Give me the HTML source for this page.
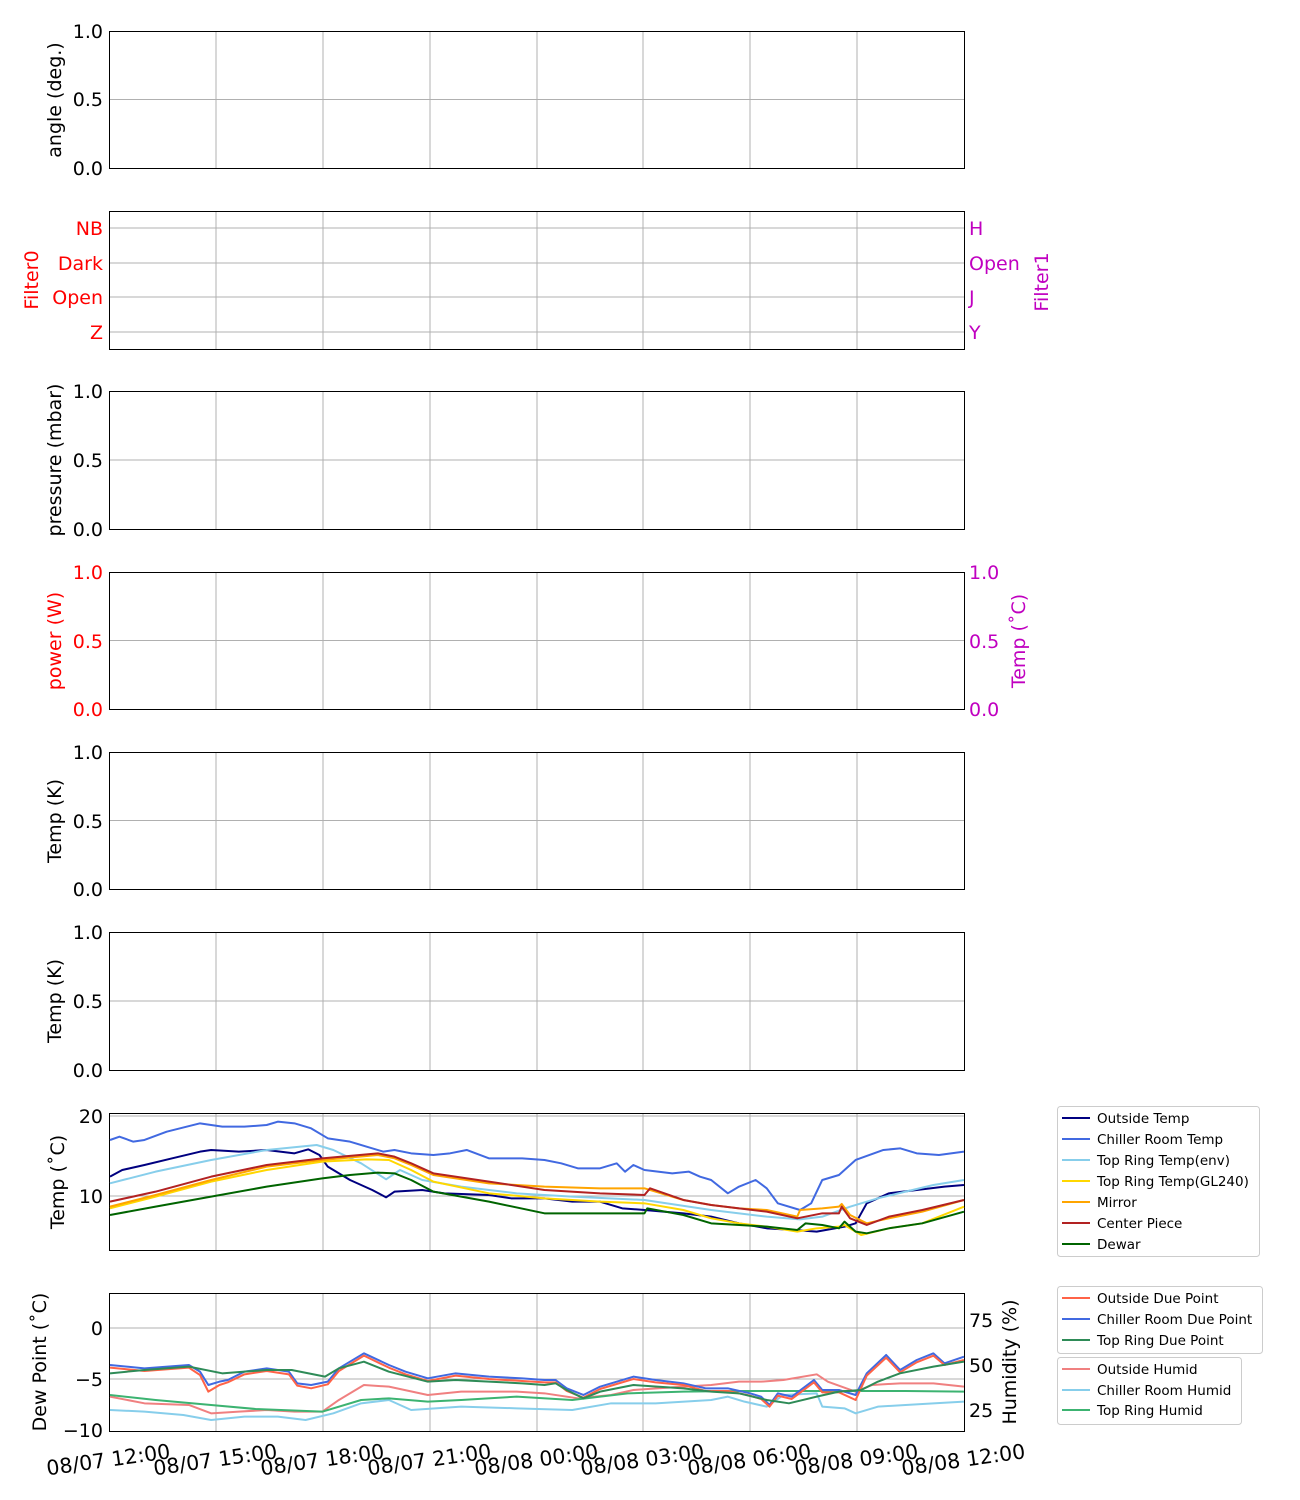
<!DOCTYPE html>
<html><head><meta charset="utf-8"><style>
body{margin:0;background:#fff}
svg{display:block;font-family:"DejaVu Sans","Liberation Sans",sans-serif}
.g{stroke:#b0b0b0;stroke-width:1;fill:none}
.f{fill:none;stroke:#000;stroke-width:1}
.t{font-size:19px;fill:#000}
.x{font-size:20.5px;fill:#000}
.l{font-size:13.5px;fill:#000}
.s{fill:none;stroke-width:2;vector-effect:non-scaling-stroke;stroke-linejoin:round}
</style></head><body>
<svg width="1300" height="1500" viewBox="0 0 1300 1500" xmlns="http://www.w3.org/2000/svg">
<rect width="1300" height="1500" fill="#fff"/>
<path class="g" d="M216 31V168M323 31V168M430 31V168M537 31V168M643 31V168M750 31V168M857 31V168
M216 211V349M323 211V349M430 211V349M537 211V349M643 211V349M750 211V349M857 211V349
M216 391V529M323 391V529M430 391V529M537 391V529M643 391V529M750 391V529M857 391V529
M216 572V709M323 572V709M430 572V709M537 572V709M643 572V709M750 572V709M857 572V709
M216 752V889M323 752V889M430 752V889M537 752V889M643 752V889M750 752V889M857 752V889
M216 932V1070M323 932V1070M430 932V1070M537 932V1070M643 932V1070M750 932V1070M857 932V1070
M216 1113V1250M323 1113V1250M430 1113V1250M537 1113V1250M643 1113V1250M750 1113V1250M857 1113V1250
M216 1293V1431M323 1293V1431M430 1293V1431M537 1293V1431M643 1293V1431M750 1293V1431M857 1293V1431
M109 99.5H964M109 228H964M109 263H964M109 297H964M109 332H964M109 460H964M109 640.5H964M109 820.5H964M109 1001H964M109 1116H964M109 1196H964M109 1328H964M109 1379H964"/>
<rect class="f" x="109.5" y="31.5" width="855" height="137"/>
<rect class="f" x="109.5" y="211.5" width="855" height="138"/>
<rect class="f" x="109.5" y="391.5" width="855" height="138"/>
<rect class="f" x="109.5" y="572.5" width="855" height="137"/>
<rect class="f" x="109.5" y="752.5" width="855" height="137"/>
<rect class="f" x="109.5" y="932.5" width="855" height="138"/>
<rect class="f" x="109.5" y="1113.5" width="855" height="137"/>
<rect class="f" x="109.5" y="1293.5" width="855" height="138"/>

<g class="t" text-anchor="end">
<text x="103" y="38">1.0</text><text x="103" y="106">0.5</text><text x="103" y="175">0.0</text>
<text x="103" y="398">1.0</text><text x="103" y="467">0.5</text><text x="103" y="536">0.0</text>
<text x="103" y="759">1.0</text><text x="103" y="828">0.5</text><text x="103" y="896">0.0</text>
<text x="103" y="939">1.0</text><text x="103" y="1008">0.5</text><text x="103" y="1077">0.0</text>
<text x="103" y="1123">20</text><text x="103" y="1203">10</text>
<text x="103" y="1335">0</text><text x="103" y="1386">−5</text><text x="103" y="1437">−10</text>
</g>
<g class="t" text-anchor="end" style="fill:#f00">
<text x="103" y="235">NB</text><text x="103" y="270">Dark</text><text x="103" y="304">Open</text><text x="103" y="339">Z</text>
<text x="103" y="579">1.0</text><text x="103" y="648">0.5</text><text x="103" y="716">0.0</text>
</g>
<g class="t" style="fill:#c000c0">
<text x="969" y="235">H</text><text x="969" y="270">Open</text><text x="969" y="304">J</text><text x="969" y="339">Y</text>
<text x="969" y="579">1.0</text><text x="969" y="648">0.5</text><text x="969" y="716">0.0</text>
</g>
<g class="t" text-anchor="start">
<text x="969" y="1327">75</text><text x="969" y="1372">50</text><text x="969" y="1417">25</text>
</g>
<g class="t" text-anchor="middle">
<text transform="translate(61,100) rotate(-90)">angle (deg.)</text>
<text transform="translate(38,280) rotate(-90)" style="fill:#f00">Filter0</text>
<text transform="translate(1048,282) rotate(-90)" style="fill:#c000c0">Filter1</text>
<text transform="translate(61,460) rotate(-90)">pressure (mbar)</text>
<text transform="translate(61,641) rotate(-90)" style="fill:#f00">power (W)</text>
<text transform="translate(1025,641) rotate(-90)" style="fill:#c000c0">Temp (˚C)</text>
<text transform="translate(61,821) rotate(-90)">Temp (K)</text>
<text transform="translate(61,1001) rotate(-90)">Temp (K)</text>
<text transform="translate(64,1182) rotate(-90)">Temp (˚C)</text>
<text transform="translate(46,1362) rotate(-90)">Dew Point (˚C)</text>
<text transform="translate(1016,1362) rotate(-90)">Humidity (%)</text>
</g>
<g class="x" text-anchor="end">
<text transform="translate(171,1458) rotate(-8)">08/07 12:00</text>
<text transform="translate(278,1458) rotate(-8)">08/07 15:00</text>
<text transform="translate(385,1458) rotate(-8)">08/07 18:00</text>
<text transform="translate(492,1458) rotate(-8)">08/07 21:00</text>
<text transform="translate(599,1458) rotate(-8)">08/08 00:00</text>
<text transform="translate(705,1458) rotate(-8)">08/08 03:00</text>
<text transform="translate(812,1458) rotate(-8)">08/08 06:00</text>
<text transform="translate(919,1458) rotate(-8)">08/08 09:00</text>
<text transform="translate(1026,1458) rotate(-8)">08/08 12:00</text>
</g>

<g transform="translate(100,1100) scale(0.5556,0.3333)">
<polyline class="s" stroke="#4169e1" points="18,120 35,110 60,125 80,120 120,95 180,70 220,80 260,80 300,75 320,65 350,70 380,85 410,115 450,125 480,140 510,155 530,150 560,160 600,165 630,160 660,150 700,175 760,175 800,180 830,190 860,205 900,205 930,190 945,215 960,195 980,210 1030,220 1060,215 1080,230 1100,240 1130,280 1150,260 1180,240 1200,265 1220,310 1260,330 1280,310 1300,240 1330,225 1360,180 1410,150 1440,145 1470,160 1510,165 1555,155"/>
<polyline class="s" stroke="#000080" points="18,230 40,210 80,195 130,175 180,155 200,150 250,155 300,150 350,160 375,148 395,165 410,200 450,240 490,270 515,292 530,275 580,270 620,280 700,285 740,295 800,295 850,305 900,305 940,325 980,330 1050,340 1100,350 1150,370 1200,385 1250,390 1290,395 1340,380 1360,370 1380,310 1420,280 1470,270 1520,260 1555,255"/>
<polyline class="s" stroke="#87ceeb" points="18,250 100,215 200,180 300,150 390,135 420,150 470,190 515,238 540,210 580,240 650,260 750,280 850,290 980,300 1100,330 1200,350 1260,358 1300,350 1350,320 1400,295 1450,275 1500,255 1555,240"/>
<polyline class="s" stroke="#ffd700" points="18,325 100,290 200,245 300,210 400,185 480,178 520,180 560,210 600,245 700,280 800,295 900,305 980,310 1050,330 1100,355 1150,370 1200,380 1255,395 1290,385 1330,380 1340,375 1370,405 1420,385 1480,370 1555,320"/>
<polyline class="s" stroke="#ffa500" points="18,320 100,285 200,240 300,200 400,180 500,165 530,175 560,195 600,225 700,250 800,260 900,265 980,265 1050,300 1100,315 1150,325 1200,330 1255,350 1260,330 1300,325 1330,320 1335,312 1350,345 1380,370 1420,355 1480,335 1555,300"/>
<polyline class="s" stroke="#b22222" points="18,305 100,275 200,230 300,195 400,175 500,160 530,170 560,190 600,220 700,245 800,270 900,280 980,285 990,265 1050,300 1100,315 1200,335 1255,355 1300,340 1330,340 1335,320 1350,355 1380,375 1420,350 1480,330 1555,300"/>
<polyline class="s" stroke="#006400" points="18,345 100,320 200,290 300,260 400,235 450,225 500,218 530,220 560,240 600,275 700,305 800,340 900,340 980,340 985,325 1050,345 1100,370 1200,380 1255,390 1270,370 1300,375 1330,385 1340,365 1360,395 1380,400 1420,385 1480,370 1555,335"/>
</g>
<g transform="translate(100,1285) scale(0.5556,0.3333)">
<polyline class="s" stroke="#f08080" points="18,335 80,355 160,360 200,385 250,380 300,375 350,380 400,380 430,345 475,300 520,305 590,330 650,320 750,320 800,325 860,340 920,330 960,315 1050,305 1100,300 1150,290 1190,290 1230,285 1290,268 1310,290 1360,320 1390,300 1440,295 1500,295 1555,305"/>
<polyline class="s" stroke="#87ceeb" points="18,375 80,380 150,390 200,405 260,395 320,395 370,405 420,385 470,355 520,345 560,375 650,365 750,370 850,375 920,355 1000,355 1100,345 1130,335 1160,350 1200,365 1230,330 1290,325 1300,365 1340,370 1360,385 1400,365 1450,360 1500,355 1555,350"/>
<polyline class="s" stroke="#3cb371" points="18,330 100,345 200,360 280,372 400,380 470,345 520,340 590,350 650,345 750,335 850,345 950,325 1050,320 1150,318 1250,318 1350,318 1450,318 1555,320"/>
<polyline class="s" stroke="#4169e1" points="18,240 80,250 160,240 180,260 195,300 215,290 230,285 260,260 300,250 340,260 355,295 380,300 410,290 430,250 475,205 520,240 550,260 590,280 640,265 700,275 760,280 800,285 820,285 840,310 870,330 900,305 960,275 1000,285 1050,295 1090,310 1130,310 1170,325 1190,335 1205,360 1220,325 1245,335 1285,285 1300,315 1330,315 1360,330 1380,265 1415,210 1440,255 1470,225 1500,205 1520,235 1555,215"/>
<polyline class="s" stroke="#ff6347" points="18,248 80,258 160,248 180,270 195,320 215,300 230,292 260,268 300,258 340,268 355,302 380,310 410,298 430,258 475,212 520,248 550,268 590,288 640,272 700,282 760,288 800,292 820,292 840,318 870,338 900,312 960,282 1000,292 1050,300 1090,318 1130,318 1170,332 1190,342 1205,365 1220,332 1245,342 1285,292 1300,322 1330,322 1360,345 1380,272 1415,218 1440,262 1470,232 1500,212 1520,240 1555,225"/>
<polyline class="s" stroke="#2e8b57" points="18,265 80,255 160,245 220,265 260,260 300,255 345,255 405,275 430,250 475,230 520,260 590,290 640,285 700,290 760,295 800,300 820,295 840,315 870,340 900,320 960,300 1050,310 1100,320 1150,325 1200,345 1240,355 1290,335 1330,320 1370,315 1400,290 1440,265 1500,245 1555,230"/>
</g>

<g>
<rect x="1057.5" y="1106.5" width="202" height="150" rx="3" fill="#fff" stroke="#ccc"/>
<g stroke-width="2">
<line x1="1062" y1="1118" x2="1090" y2="1118" stroke="#000080"/>
<line x1="1062" y1="1139" x2="1090" y2="1139" stroke="#4169e1"/>
<line x1="1062" y1="1160" x2="1090" y2="1160" stroke="#87ceeb"/>
<line x1="1062" y1="1181" x2="1090" y2="1181" stroke="#ffd700"/>
<line x1="1062" y1="1202" x2="1090" y2="1202" stroke="#ffa500"/>
<line x1="1062" y1="1223" x2="1090" y2="1223" stroke="#b22222"/>
<line x1="1062" y1="1244" x2="1090" y2="1244" stroke="#006400"/>
</g>
<g class="l">
<text x="1097" y="1123">Outside Temp</text>
<text x="1097" y="1144">Chiller Room Temp</text>
<text x="1097" y="1165">Top Ring Temp(env)</text>
<text x="1097" y="1186">Top Ring Temp(GL240)</text>
<text x="1097" y="1207">Mirror</text>
<text x="1097" y="1228">Center Piece</text>
<text x="1097" y="1249">Dewar</text>
</g>
<rect x="1057.5" y="1286.5" width="205" height="67" rx="3" fill="#fff" stroke="#ccc"/>
<rect x="1057.5" y="1357.5" width="184" height="67" rx="3" fill="#fff" stroke="#ccc"/>
<g stroke-width="2">
<line x1="1062" y1="1298" x2="1090" y2="1298" stroke="#ff6347"/>
<line x1="1062" y1="1319" x2="1090" y2="1319" stroke="#4169e1"/>
<line x1="1062" y1="1340" x2="1090" y2="1340" stroke="#2e8b57"/>
<line x1="1062" y1="1369" x2="1090" y2="1369" stroke="#f08080"/>
<line x1="1062" y1="1390" x2="1090" y2="1390" stroke="#87ceeb"/>
<line x1="1062" y1="1410" x2="1090" y2="1410" stroke="#3cb371"/>
</g>
<g class="l">
<text x="1097" y="1303">Outside Due Point</text>
<text x="1097" y="1324">Chiller Room Due Point</text>
<text x="1097" y="1345">Top Ring Due Point</text>
<text x="1097" y="1374">Outside Humid</text>
<text x="1097" y="1395">Chiller Room Humid</text>
<text x="1097" y="1415">Top Ring Humid</text>
</g>
</g>
</svg>
</body></html>
